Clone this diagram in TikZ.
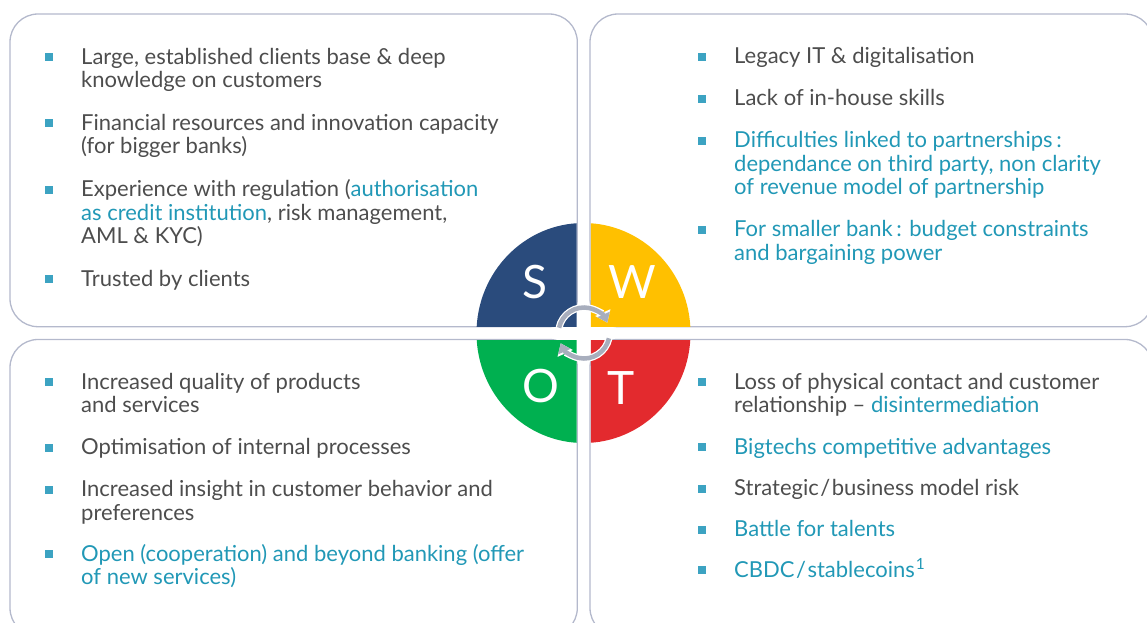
\documentclass[tikz,border=0pt]{standalone}
\usepackage{fontspec}
\setmainfont{Lato}
\usetikzlibrary{arrows.meta}
\definecolor{gtext}{RGB}{77,77,77}
\definecolor{hl}{RGB}{33,152,182}
\definecolor{bulc}{RGB}{60,163,194}
\definecolor{boxc}{RGB}{180,185,204}
\definecolor{cS}{RGB}{42,75,124}
\definecolor{cW}{RGB}{255,192,0}
\definecolor{cO}{RGB}{0,176,80}
\definecolor{cT}{RGB}{227,42,46}
\definecolor{cyc}{RGB}{168,174,189}
\newcommand\bulsq[2]{\fill[bulc] ({#1-4},{#2-11}) rectangle ({#1+4},{#2-3});}
\begin{document}
\begin{tikzpicture}[x=1pt,y=-1pt,
  box/.style={draw=boxc,line width=1.3pt,rounded corners=28pt},
  txt/.style={anchor=base west,inner sep=0pt,text=gtext,font=\fontsize{22}{26}\selectfont},
  letter/.style={inner sep=0pt,text=white,font=\fontsize{46}{50}\selectfont},
  cycw/.style={draw=white,line width=7pt,-{Triangle[length=11pt,width=16pt]}},
  cycg/.style={draw=cyc,line width=4.5pt,-{Triangle[length=9pt,width=13pt]}}]
\useasboundingbox (0,0) rectangle (1147,622);
\clip (0,0) rectangle (1147,622);
% boxes
\draw[box] (10,14) rectangle (577.3,326.7);
\draw[box] (590,14) rectangle (1153,326.7);
\draw[box] (10,339.5) rectangle (577.3,636);
\draw[box] (590,339.5) rectangle (1153,636);
% quadrants
\begin{scope}\clip (400,200) rectangle (576.5,326);
\fill[cS] (583.5,333) ellipse [x radius=107, y radius=110];\end{scope}
\begin{scope}\clip (590.8,200) rectangle (720,326);
\fill[cW] (583.5,333) ellipse [x radius=107, y radius=110];\end{scope}
\begin{scope}\clip (400,340.2) rectangle (576.5,460);
\fill[cO] (583.5,333) ellipse [x radius=107, y radius=110];\end{scope}
\begin{scope}\clip (590.8,340.2) rectangle (720,460);
\fill[cT] (583.5,333) ellipse [x radius=107, y radius=110];\end{scope}
\node[letter] (S) at (535,282) {S};
\node[letter] (W) at (632,282) {W};
\node[letter] (O) at (541,386) {O};
\node[letter] (T) at (621.5,388) {T};
% cycle arrows
\coordinate (cc) at (584,333);
\draw[cycw] ([shift={(-168:25.5)}]cc) arc[start angle=-168,end angle=-24,radius=25.5];
\draw[cycw] ([shift={(12:25.5)}]cc) arc[start angle=12,end angle=156,radius=25.5];
\draw[cycg] ([shift={(-168:25.5)}]cc) arc[start angle=-168,end angle=-24,radius=25.5];
\draw[cycg] ([shift={(12:25.5)}]cc) arc[start angle=12,end angle=156,radius=25.5];
% S
\bulsq{49}{64.3}\bulsq{49}{130}\bulsq{49}{196.7}\bulsq{49}{286}
\node[txt] (s1a) at (81,64.3) {Large, established clients base \& deep};
\node[txt] (s1b) at (81,87.8) {knowledge on customers};
\node[txt] (s2a) at (81,130) {Financial resources and innovation capacity};
\node[txt] (s2b) at (81,153.5) {(for bigger banks)};
\node[txt] (s3a) at (81,196.7) {Experience with regulation (\textcolor{hl}{authorisation}};
\node[txt] (s3b) at (81,220.2) {\textcolor{hl}{as credit institution}, risk management,};
\node[txt] (s3c) at (81,243.7) {AML \& KYC)};
\node[txt] (s4a) at (81,286) {Trusted by clients};
% W
\bulsq{702}{63.5}\bulsq{702}{105.5}\bulsq{702}{147.5}\bulsq{702}{236.5}
\node[txt] (w1a) at (734,63.5) {Legacy IT \& digitalisation};
\node[txt] (w2a) at (734,105.5) {Lack of in-house skills};
\node[txt,text=hl] (w3a) at (734,147.5) {Difficulties linked to partnerships\,:};
\node[txt,text=hl] (w3b) at (734,171) {dependance on third party, non clarity};
\node[txt,text=hl] (w3c) at (734,194.5) {of revenue model of partnership};
\node[txt,text=hl] (w4a) at (734,236.5) {For smaller bank\,: budget constraints};
\node[txt,text=hl] (w4b) at (734,260) {and bargaining power};
% O
\bulsq{49}{389}\bulsq{49}{454.5}\bulsq{49}{496.5}\bulsq{49}{561}
\node[txt] (o1a) at (81,389) {Increased quality of products};
\node[txt] (o1b) at (81,412.5) {and services};
\node[txt] (o2a) at (81,454.5) {Optimisation of internal processes};
\node[txt] (o3a) at (81,496.5) {Increased insight in customer behavior and};
\node[txt] (o3b) at (81,520) {preferences};
\node[txt,text=hl] (o4a) at (81,561) {Open (cooperation) and beyond banking (offer};
\node[txt,text=hl] (o4b) at (81,584.5) {of new services)};
% T
\bulsq{702}{389}\bulsq{702}{454}\bulsq{702}{495.5}\bulsq{702}{536.5}\bulsq{702}{577}
\node[txt] (t1a) at (734,389) {Loss of physical contact and customer};
\node[txt] (t1b) at (734,412.5) {relationship – \textcolor{hl}{disintermediation}};
\node[txt,text=hl] (t2a) at (734,454) {Bigtechs competitive advantages};
\node[txt] (t3a) at (734,495.5) {Strategic\kern1.5pt/\kern1.5pt business model risk};
\node[txt,text=hl] (t4a) at (734,536.5) {Battle for talents};
\node[txt,text=hl] (t5a) at (734,577) {CBDC\kern1.5pt/\kern1.5pt stablecoins\kern1pt\textsuperscript{1}};
\end{tikzpicture}
\end{document}
